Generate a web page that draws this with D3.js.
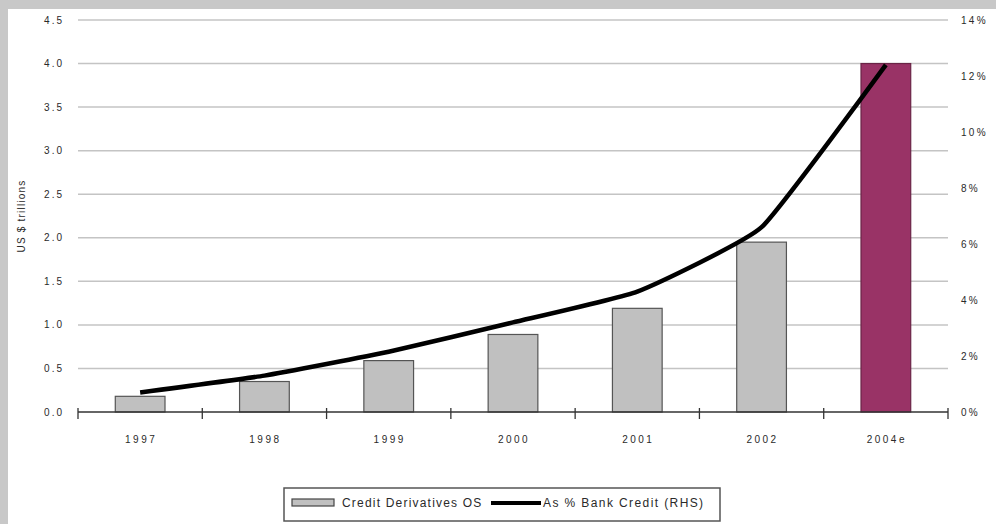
<!DOCTYPE html>
<html lang="en">
<head>
  <meta charset="UTF-8">
  <title>Credit derivatives outstanding</title>
  <script src="https://d3js.org/d3.v7.min.js"></script>
  <style>
    body { margin: 0; overflow: hidden; background: #fff; }
    svg { display: block; }
    text { font-family: "Liberation Sans", Arial, sans-serif; fill: #2a2a2a; }
    .grid line { stroke: #c4c4c4; stroke-width: 1.5px; }
  </style>
</head>
<body>
  <svg width="996" height="524"></svg>

  <script>
    // data
    const years = ['1997', '1998', '1999', '2000', '2001', '2002', '2004e'];
    const creditDerivs = [0.18, 0.35, 0.59, 0.89, 1.19, 1.95, 4.0];   // US $ trillions
    const pctBankCredit = [0.7, 1.3, 2.15, 3.2, 4.3, 6.6, 12.4];      // % (RHS)
    const leftTicks = [0, 0.5, 1, 1.5, 2, 2.5, 3, 3.5, 4, 4.5];
    const rightTicks = [0, 2, 4, 6, 8, 10, 12, 14];

    const svg = d3.select('svg');
    const W = 996, H = 524;
    const m = { left: 78, right: 948, top: 20, bottom: 412 };

    // grey frame + white panel
    svg.append('rect').attr('width', W).attr('height', H).attr('fill', '#c8c8c8');
    svg.append('rect').attr('x', 8).attr('y', 9).attr('width', W - 8).attr('height', H - 9).attr('fill', '#fff');

    const x = d3.scaleBand().domain(years).range([m.left, m.right]).paddingInner(0).paddingOuter(0);
    const yL = d3.scaleLinear().domain([0, 4.5]).range([m.bottom, m.top]);
    const yR = d3.scaleLinear().domain([0, 14]).range([m.bottom, m.top]);

    // gridlines
    svg.append('g').attr('class', 'grid')
      .selectAll('line').data(leftTicks.filter(d => d > 0)).join('line')
      .attr('x1', m.left).attr('x2', m.right)
      .attr('y1', d => yL(d)).attr('y2', d => yL(d));

    // left tick labels
    svg.append('g').selectAll('text').data(leftTicks).join('text')
      .attr('x', 64).attr('y', d => yL(d)).attr('dy', '0.35em')
      .attr('text-anchor', 'end').attr('font-size', 10).attr('letter-spacing', 2)
      .text(d => d3.format('.1f')(d));

    // right tick labels
    svg.append('g').selectAll('text').data(rightTicks).join('text')
      .attr('x', 961).attr('y', d => yR(d)).attr('dy', '0.35em')
      .attr('text-anchor', 'start').attr('font-size', 10).attr('letter-spacing', 2.3)
      .text(d => d + '%');

    // y title
    svg.append('text')
      .attr('transform', 'translate(25,216) rotate(-90)')
      .attr('text-anchor', 'middle').attr('font-size', 10).attr('letter-spacing', 1.2)
      .text('US $ trillions');

    // bars
    const barW = x.bandwidth() * 0.4;
    svg.append('g').selectAll('rect').data(years).join('rect')
      .attr('x', d => x(d) + (x.bandwidth() - barW) / 2)
      .attr('y', (d, i) => yL(creditDerivs[i]))
      .attr('width', barW)
      .attr('height', (d, i) => m.bottom - yL(creditDerivs[i]))
      .attr('fill', d => d === '2004e' ? '#993366' : '#c0c0c0')
      .attr('stroke', d => d === '2004e' ? '#6a2446' : '#555')
      .attr('stroke-width', 1.2);

    // x axis line + cross ticks at category boundaries
    svg.append('line')
      .attr('x1', m.left).attr('x2', m.right)
      .attr('y1', m.bottom).attr('y2', m.bottom)
      .attr('stroke', '#333').attr('stroke-width', 1.3);
    const bounds = years.map(d => x(d)).concat([m.right]);
    svg.append('g').selectAll('line').data(bounds).join('line')
      .attr('x1', d => d).attr('x2', d => d)
      .attr('y1', m.bottom - 4).attr('y2', m.bottom + 7)
      .attr('stroke', '#333').attr('stroke-width', 1.3);

    // x labels
    svg.append('g').selectAll('text').data(years).join('text')
      .attr('x', d => x(d) + x.bandwidth() / 2 + 1).attr('y', 439)
      .attr('dy', '0.35em').attr('text-anchor', 'middle').attr('font-size', 10)
      .attr('letter-spacing', 2.5)
      .text(d => d);

    // line (RHS)
    const line = d3.line()
      .x((d, i) => x(years[i]) + x.bandwidth() / 2)
      .y(d => yR(d))
      .curve(d3.curveCardinal.tension(0.6));
    svg.append('path').datum(pctBankCredit)
      .attr('d', line).attr('fill', 'none')
      .attr('stroke', '#000').attr('stroke-width', 4.5)
      .attr('stroke-linejoin', 'round');

    // legend
    const lg = svg.append('g');
    lg.append('rect').attr('x', 284).attr('y', 488).attr('width', 436).attr('height', 33)
      .attr('fill', '#fff').attr('stroke', '#555').attr('stroke-width', 1.5);
    lg.append('rect').attr('x', 292).attr('y', 499).attr('width', 42).attr('height', 7)
      .attr('fill', '#c0c0c0').attr('stroke', '#444').attr('stroke-width', 1.2);
    lg.append('text').attr('x', 342).attr('y', 503).attr('dy', '0.35em').attr('font-size', 12)
      .attr('letter-spacing', 1.2)
      .text('Credit Derivatives OS');
    lg.append('line').attr('x1', 491).attr('x2', 541).attr('y1', 503).attr('y2', 503)
      .attr('stroke', '#000').attr('stroke-width', 4);
    lg.append('text').attr('x', 543).attr('y', 503).attr('dy', '0.35em').attr('font-size', 12)
      .attr('letter-spacing', 1.4)
      .text('As % Bank Credit (RHS)');
  </script>
</body>
</html>
